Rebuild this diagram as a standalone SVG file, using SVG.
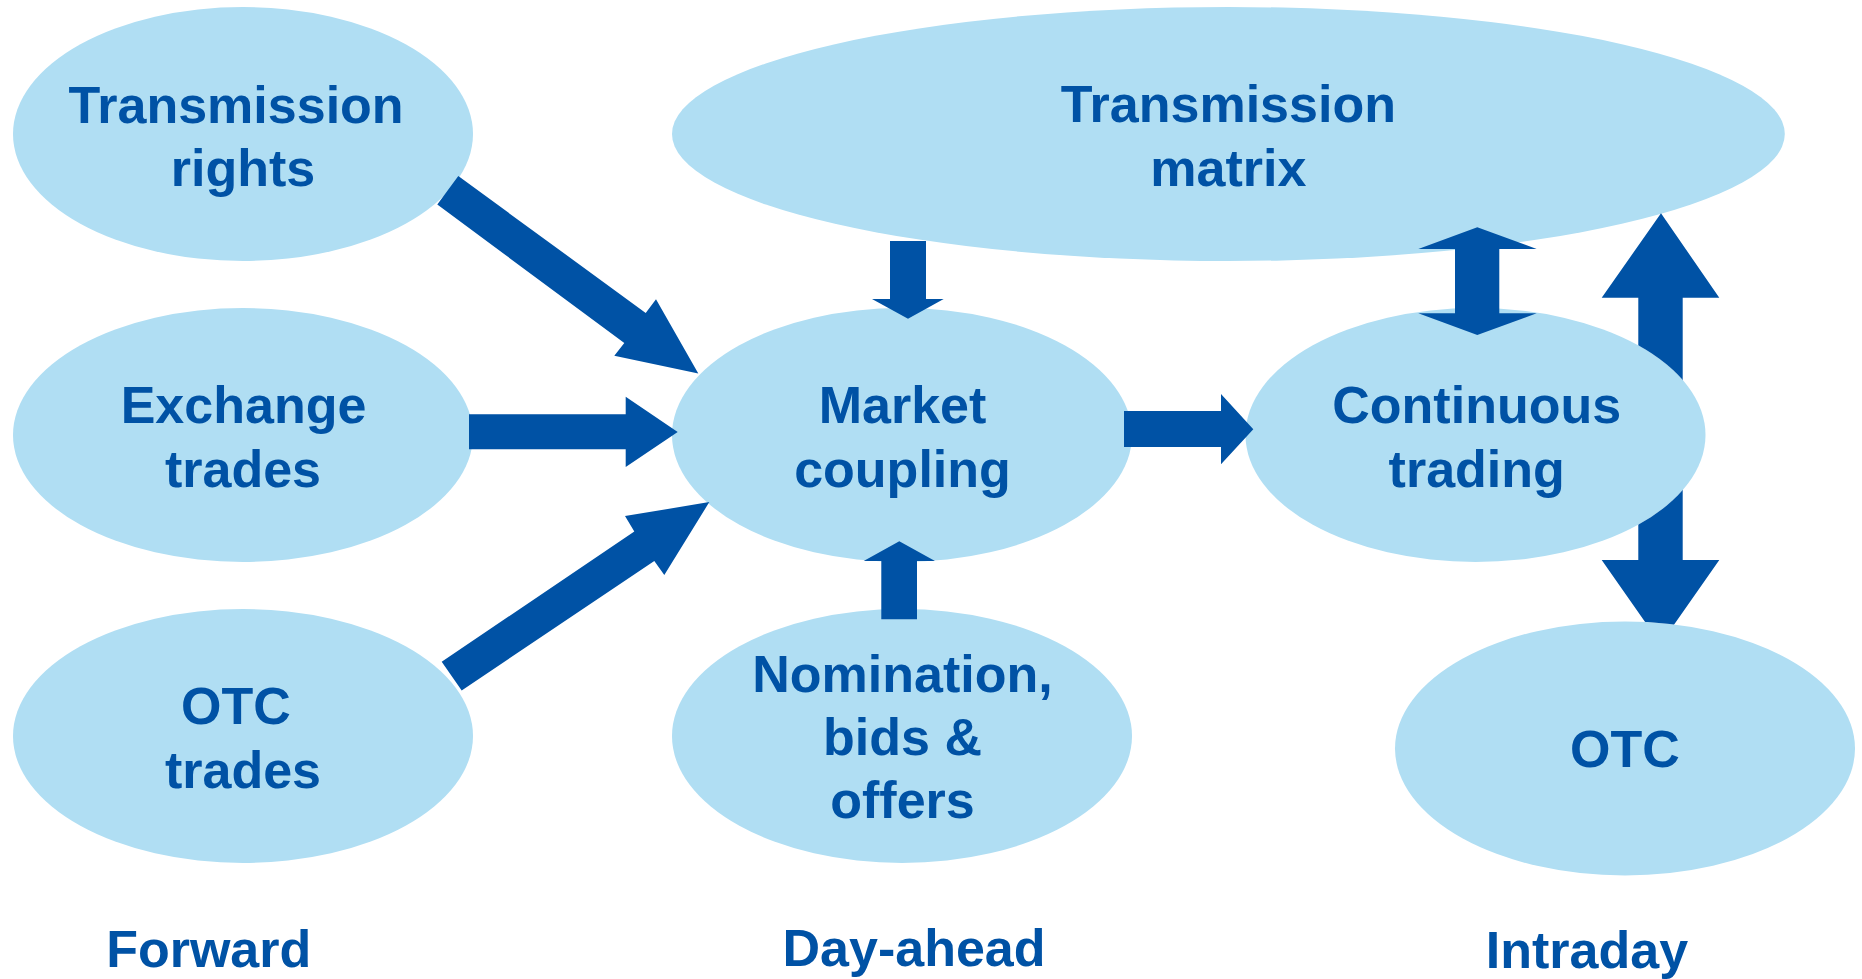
<svg xmlns="http://www.w3.org/2000/svg" width="1862" height="979" viewBox="0 0 1862 979">
<style>
.node{fill:#B0DEF3}
.lbl{font-family:"Liberation Sans",Arial,sans-serif;font-weight:bold;font-size:52px;fill:#0052A5;text-anchor:middle}
.arr{fill:#0052A5}
</style>
<defs>
<mask id="bigMask" maskUnits="userSpaceOnUse" x="0" y="0" width="1862" height="979">
<rect x="0" y="0" width="1862" height="979" fill="#fff"/>
<ellipse cx="1475.5" cy="435" rx="230" ry="127" fill="#000"/>
<ellipse cx="1625" cy="748.5" rx="230" ry="127" fill="#000"/>
</mask>
</defs>
<rect x="0" y="0" width="1862" height="979" fill="#fff"/>
<g id="nodes">
<g id="transmission-rights">
<ellipse class="node" cx="243" cy="134" rx="230" ry="127"/>
<text class="lbl" x="236" y="123">Transmission</text>
<text class="lbl" x="243" y="186">rights</text>
</g>
<g id="exchange-trades">
<ellipse class="node" cx="243" cy="435" rx="230" ry="127"/>
<text class="lbl" x="243.5" y="423.3">Exchange</text>
<text class="lbl" x="243" y="486.7">trades</text>
</g>
<g id="otc-trades">
<ellipse class="node" cx="243" cy="736" rx="230" ry="127"/>
<text class="lbl" x="236" y="724.3">OTC</text>
<text class="lbl" x="243" y="787.7">trades</text>
</g>
<g id="transmission-matrix">
<ellipse class="node" cx="1228.4" cy="134" rx="556.4" ry="127"/>
<text class="lbl" x="1228.3" y="121.7">Transmission</text>
<text class="lbl" x="1228.3" y="186">matrix</text>
</g>
<g id="market-coupling">
<ellipse class="node" cx="902" cy="435" rx="230" ry="127"/>
<text class="lbl" x="902.5" y="423.3">Market</text>
<text class="lbl" x="902.5" y="486.7">coupling</text>
</g>
<g id="nomination">
<ellipse class="node" cx="902" cy="736" rx="230" ry="127"/>
<text class="lbl" x="902.5" y="691.7">Nomination,</text>
<text class="lbl" x="902.5" y="755">bids &amp;</text>
<text class="lbl" x="902.5" y="818.3">offers</text>
</g>
<g id="continuous-trading">
<ellipse class="node" cx="1475.5" cy="435" rx="230" ry="127"/>
<text class="lbl" x="1476.7" y="423.3">Continuous</text>
<text class="lbl" x="1476.7" y="486.7">trading</text>
</g>
<g id="otc-intraday">
<ellipse class="node" cx="1625" cy="748.5" rx="230" ry="127"/>
<text class="lbl" x="1625" y="767">OTC</text>
</g>
</g>
<g id="connectors">
<polygon class="arr" points="458.3,176.1 645.7,312.9 656,299.3 698.3,373.6 614.3,355.7 624.3,342.9 437.3,204.6"/>
<polygon class="arr" points="469,414.3 625.7,414.3 625.7,396.8 677.7,432.1 625.7,467.1 625.7,449.3 469,449.3"/>
<polygon class="arr" points="441.7,661.8 634.3,531.4 625,516.1 709.3,502.1 664.3,575 654.3,561.1 461.7,690.4"/>
<polygon class="arr" points="890,241 926,241 926,299 943.7,299 908,318.7 872,299 890,299"/>
<polygon class="arr" points="881.3,619.3 917,619.3 917,561 935,561 899.3,541.3 863.7,561 881.3,561"/>
<polygon class="arr" points="1124,411 1221,411 1221,394 1253.3,429.3 1221,464.3 1221,447 1124,447"/>
<polygon class="arr" points="1477.3,227.3 1536.7,249 1499.3,249 1499.3,313.3 1536.7,313.3 1477.3,335 1418.3,313.3 1455,313.3 1455,249 1418.3,249"/>
<polygon class="arr" mask="url(#bigMask)" points="1661,213.3 1719.3,297.7 1682.7,297.7 1682.7,560 1719.3,560 1660.5,644 1601.7,560 1638.3,560 1638.3,297.7 1601.7,297.7"/>
</g>
<g id="phase-labels">
<text class="lbl" x="208.7" y="966.7">Forward</text>
<text class="lbl" x="914" y="966">Day-ahead</text>
<text class="lbl" x="1587" y="968.3">Intraday</text>
</g>
</svg>
